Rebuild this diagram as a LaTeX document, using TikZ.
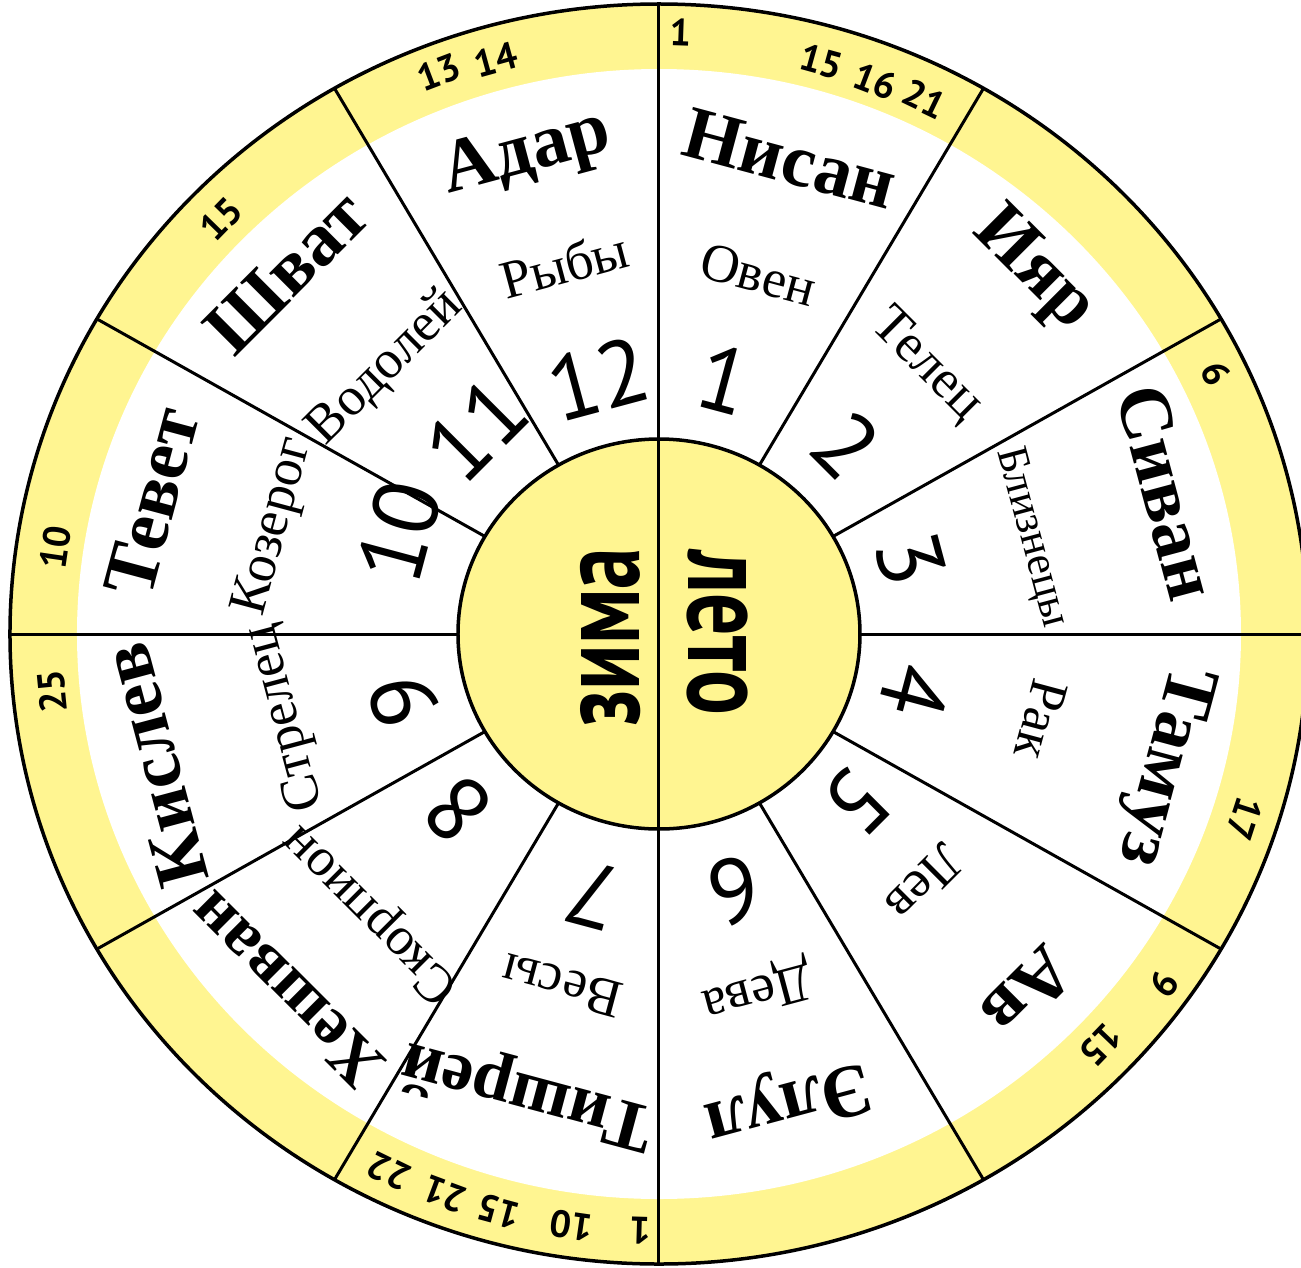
\documentclass[tikz,border=0pt]{standalone}
\usepackage{fontspec}
\setmainfont{Liberation Serif}
\newfontfamily\digitfont{PT Sans}
\usepackage{graphicx}
\definecolor{wheelyellow}{RGB}{255,245,145}
\tikzset{
  month/.style={font=\bfseries\fontsize{75}{80}\selectfont, inner sep=0pt},
  zodiac/.style={font=\fontsize{54}{58}\selectfont, inner sep=0pt},
  signnum/.style={font=\digitfont\fontsize{92}{96}\selectfont, inner sep=0pt},
  holiday/.style={font=\digitfont\bfseries\fontsize{38}{40}\selectfont, inner sep=0pt},
  season/.style={font=\digitfont\bfseries\fontsize{116}{120}\selectfont, inner sep=0pt},
  spoke/.style={line width=3pt},
  rim/.style={line width=3.5pt},
}

\begin{document}
\begin{tikzpicture}[x=1.03pt, y=1pt]
\useasboundingbox (-639.8,-633) rectangle (623.3,634);
\clip (-639.8,-633) rectangle (623.3,634);
\fill[white] (-639.8,-633) rectangle (623.3,634);

% wheel and band
\fill[wheelyellow] (0,0) ellipse [x radius=649pt, y radius=630pt];
\fill[white] (0,0) ellipse [x radius=582pt, y radius=565pt];

\draw[spoke] (0:195) -- (0:630);
\draw[spoke] (30:195) -- (30:630);
\draw[spoke] (60:195) -- (60:630);
\draw[spoke] (120:195) -- (120:630);
\draw[spoke] (150:195) -- (150:630);
\draw[spoke] (180:195) -- (180:630);
\draw[spoke] (210:195) -- (210:630);
\draw[spoke] (240:195) -- (240:630);
\draw[spoke] (300:195) -- (300:630);
\draw[spoke] (330:195) -- (330:630);

\fill[wheelyellow, draw=black, rim] (0,0) ellipse [x radius=201pt, y radius=195pt];
\draw[spoke] (90:630) -- (270:630);
\draw[rim] (0,0) ellipse [x radius=649pt, y radius=630pt];

% seasons
\node[season, rotate=90] (zima) at (-47,-3) {\scalebox{0.72}[1]{зима}};
\node[season, rotate=-90] (leto) at (57,1) {\scalebox{0.72}[1]{лето}};

% months
\node[month, rotate=-15] (nisan) at (75:492) {Нисан};
\node[month, rotate=-45] (iyar) at (45:514) {Ияр};
\node[month, rotate=-75] (sivan) at (16:513) {Сиван};
\node[month, rotate=-105] (tamuz) at (-15:506) {Тамуз};
\node[month, rotate=-135] (av) at (-45:507) {Ав};
\node[month, rotate=-165] (elul) at (-75:483) {Элул};
\node[month, rotate=-195, font=\bfseries\fontsize{71}{76}\selectfont] (tishrei) at (-105.5:476) {Тишрей};
\node[month, rotate=-225, font=\bfseries\fontsize{68}{72}\selectfont] (heshvan) at (-135.5:508) {Хешван};
\node[month, rotate=105] (kislev) at (195:507) {Кислев};
\node[month, rotate=75] (tevet) at (165:510) {Тевет};
\node[month, rotate=45] (shvat) at (135:512) {Шват};
\node[month, rotate=15] (adar) at (105:496) {Адар};

% zodiac signs
\node[zodiac, rotate=-15] (oven) at (75:372) {Овен};
\node[zodiac, rotate=-45] (telec) at (46:373) {Телец};
\node[zodiac, rotate=-75, font=\fontsize{44}{48}\selectfont] (bliznecy) at (15:374) {Близнецы};
\node[zodiac, rotate=-105] (rak) at (-13:381) {Рак};
\node[zodiac, rotate=-135] (lev) at (-44:359) {Лев};
\node[zodiac, rotate=-165] (deva) at (-75:368) {Дева};
\node[zodiac, rotate=-195] (vesy) at (-105:364) {Весы};
\node[zodiac, rotate=-225] (skorpion) at (-135:395) {Скорпион};
\node[zodiac, rotate=105] (strelec) at (193:372) {Стрелец};
\node[zodiac, rotate=75] (kozerog) at (164:388) {Козерог};
\node[zodiac, rotate=45] (vodolej) at (135:376) {Водолей};
\node[zodiac, rotate=15] (ryby) at (104:381) {Рыбы};

% sign numbers
\node[signnum, rotate=-15] (n1) at (76:262) {1};
\node[signnum, rotate=-45] (n2) at (46:262) {2};
\node[signnum, rotate=-75] (n3) at (17:255) {3};
\node[signnum, rotate=-105] (n4) at (-13:256) {4};
\node[signnum, rotate=-135] (n5) at (-41:255) {5};
\node[signnum, rotate=-165] (n6) at (-74:267) {6};
\node[signnum, rotate=-195] (n7) at (-104:269) {7};
\node[signnum, rotate=-225] (n8) at (-138:262) {8};
\node[signnum, rotate=105] (n9) at (195:256) {9};
\node[signnum, rotate=75] (n10) at (158:272) {10};
\node[signnum, rotate=45] (n11) at (131:271) {11};
\node[signnum, rotate=15] (n12) at (103:262) {12};

% holiday dates in the band
\node[holiday, rotate=-2] (nisan1) at (88:602) {1};
\node[holiday, rotate=-15.4] (nisan15) at (74.6:594) {15};
\node[holiday, rotate=-20.8] (nisan16) at (69.2:591) {16};
\node[holiday, rotate=-25.7] (nisan21) at (64.3:594) {21};
\node[holiday, rotate=-64.3] (sivan6) at (25.7:600) {6};
\node[holiday, rotate=-108] (tamuz17) at (-18:598) {17};
\node[holiday, rotate=-125.5] (av9) at (-35.5:602) {9};
\node[holiday, rotate=-133.8] (av15) at (-43.8:594) {15};
\node[holiday, rotate=-181.7] (tishrei1) at (-91.7:597) {1};
\node[holiday, rotate=-188.2] (tishrei10) at (-98.2:598) {10};
\node[holiday, rotate=-195.1] (tishrei15) at (-105.1:598) {15};
\node[holiday, rotate=-200.4] (tishrei21) at (-110.4:598) {21};
\node[holiday, rotate=-206] (tishrei22) at (-116:598) {22};
\node[holiday, rotate=95.6] (kislev25) at (185.6:592) {25};
\node[holiday, rotate=81.6] (tevet10) at (171.6:592) {10};
\node[holiday, rotate=45.7] (shvat15) at (135.7:594) {15};
\node[holiday, rotate=20.8] (adar13) at (110.8:601) {13};
\node[holiday, rotate=15.4] (adar14) at (105.4:596) {14};
\end{tikzpicture}
\end{document}
